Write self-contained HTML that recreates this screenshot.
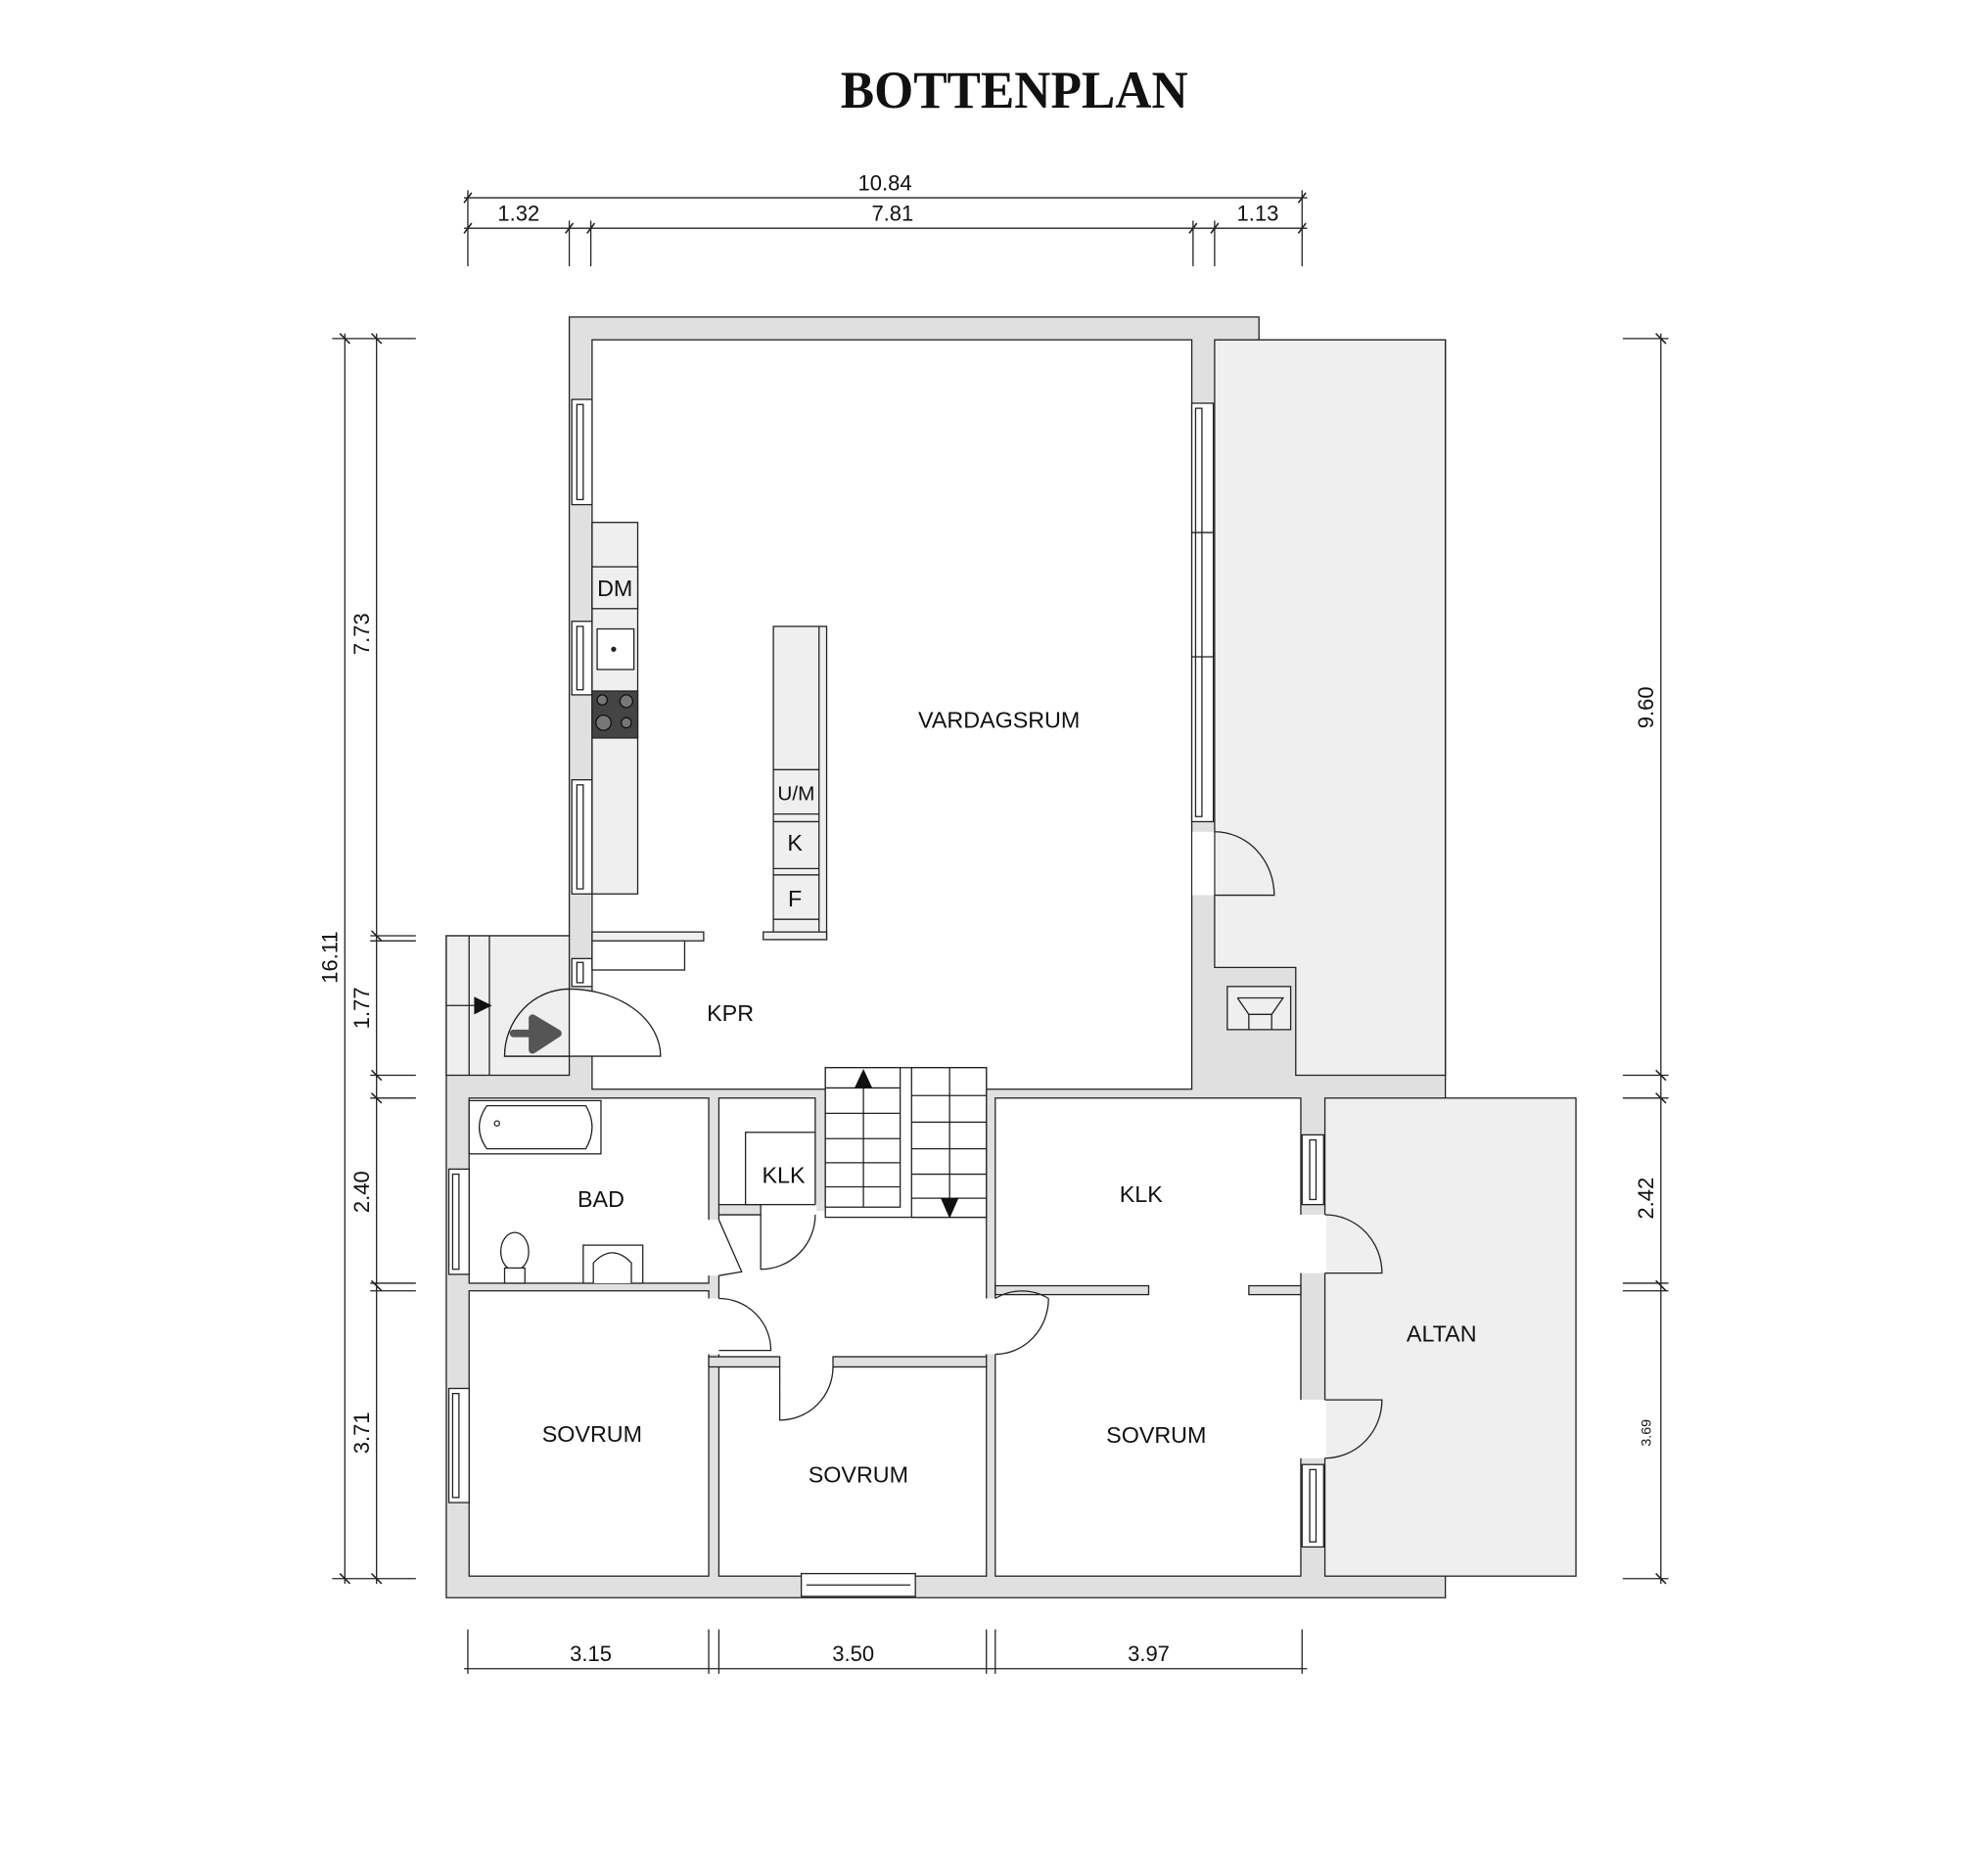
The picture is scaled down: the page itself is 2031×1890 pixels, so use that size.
<!DOCTYPE html>
<html><head><meta charset="utf-8"><style>
html,body{margin:0;padding:0;background:#fff;}
svg{display:block;}
text{font-family:"Liberation Sans",sans-serif;fill:#111;}
</style></head><body>
<svg width="2031" height="1890" viewBox="0 0 1568 1459" preserveAspectRatio="none" xmlns="http://www.w3.org/2000/svg">
<text x="800" y="85" text-anchor="middle" style="font-family:'Liberation Serif',serif;font-weight:bold;font-size:42px" textLength="274" lengthAdjust="spacingAndGlyphs">BOTTENPLAN</text>

<g stroke="#222" stroke-width="1" fill="none">
<line x1="366" y1="156" x2="1031" y2="156"/>
<line x1="366" y1="180" x2="1031" y2="180"/>
<line x1="369" y1="150" x2="369" y2="210"/><line x1="449" y1="174" x2="449" y2="210"/><line x1="466" y1="174" x2="466" y2="210"/>
<line x1="941" y1="174" x2="941" y2="210"/><line x1="958" y1="174" x2="958" y2="210"/><line x1="1027" y1="150" x2="1027" y2="210"/>
<g stroke-width="1.2"><line x1="366" y1="160" x2="372" y2="152"/><line x1="1024" y1="160" x2="1030" y2="152"/>
<line x1="366" y1="184" x2="372" y2="176"/><line x1="446" y1="184" x2="452" y2="176"/><line x1="463" y1="184" x2="469" y2="176"/><line x1="938" y1="184" x2="944" y2="176"/><line x1="955" y1="184" x2="961" y2="176"/><line x1="1024" y1="184" x2="1030" y2="176"/></g>
<line x1="272" y1="263" x2="272" y2="1249"/>
<line x1="297" y1="263" x2="297" y2="1249"/>
<line x1="262" y1="267" x2="328" y2="267"/><line x1="292" y1="738" x2="328" y2="738"/><line x1="292" y1="742" x2="328" y2="742"/>
<line x1="292" y1="848" x2="328" y2="848"/><line x1="292" y1="866" x2="328" y2="866"/>
<line x1="292" y1="1012" x2="328" y2="1012"/><line x1="292" y1="1018" x2="328" y2="1018"/><line x1="262" y1="1245" x2="328" y2="1245"/>
<g stroke-width="1.2"><line x1="268" y1="263" x2="276" y2="271"/><line x1="268" y1="1241" x2="276" y2="1249"/>
<line x1="293" y1="263" x2="301" y2="271"/><line x1="293" y1="734" x2="301" y2="742"/><line x1="293" y1="844" x2="301" y2="852"/><line x1="293" y1="862" x2="301" y2="870"/><line x1="293" y1="1010" x2="301" y2="1018"/><line x1="293" y1="1241" x2="301" y2="1249"/></g>
<line x1="1310" y1="263" x2="1310" y2="1249"/>
<line x1="1280" y1="267" x2="1316" y2="267"/><line x1="1280" y1="848" x2="1316" y2="848"/><line x1="1280" y1="866" x2="1316" y2="866"/>
<line x1="1280" y1="1012" x2="1316" y2="1012"/><line x1="1280" y1="1018" x2="1316" y2="1018"/><line x1="1280" y1="1245" x2="1316" y2="1245"/>
<g stroke-width="1.2"><line x1="1306" y1="263" x2="1314" y2="271"/><line x1="1306" y1="844" x2="1314" y2="852"/><line x1="1306" y1="862" x2="1314" y2="870"/><line x1="1306" y1="1010" x2="1314" y2="1018"/><line x1="1306" y1="1241" x2="1314" y2="1249"/></g>
<line x1="366" y1="1316" x2="1031" y2="1316"/>
<line x1="369" y1="1285" x2="369" y2="1320"/><line x1="559" y1="1285" x2="559" y2="1320"/><line x1="567" y1="1285" x2="567" y2="1320"/>
<line x1="778" y1="1285" x2="778" y2="1320"/><line x1="785" y1="1285" x2="785" y2="1320"/><line x1="1027" y1="1285" x2="1027" y2="1320"/>
</g>
<g font-size="17">
<text x="698" y="150" text-anchor="middle">10.84</text>
<text x="409" y="174" text-anchor="middle">1.32</text>
<text x="704" y="174" text-anchor="middle">7.81</text>
<text x="992" y="174" text-anchor="middle">1.13</text>
<text x="466" y="1310" text-anchor="middle">3.15</text>
<text x="673" y="1310" text-anchor="middle">3.50</text>
<text x="906" y="1310" text-anchor="middle">3.97</text>
<text transform="translate(266,755) rotate(-90)" text-anchor="middle">16.11</text>
<text transform="translate(291,500) rotate(-90)" text-anchor="middle">7.73</text>
<text transform="translate(291,795) rotate(-90)" text-anchor="middle">1.77</text>
<text transform="translate(291,940) rotate(-90)" text-anchor="middle">2.40</text>
<text transform="translate(291,1130) rotate(-90)" text-anchor="middle">3.71</text>
<text transform="translate(1304,558) rotate(-90)" text-anchor="middle">9.60</text>
<text transform="translate(1304,945) rotate(-90)" text-anchor="middle">2.42</text>
<text transform="translate(1302,1130) rotate(-90)" text-anchor="middle" font-size="11">3.69</text>
</g>

<polygon points="449,250 993,250 993,268 1140,268 1140,1260 352,1260 352,738 449,738" fill="#e0e0e0" stroke="#222" stroke-width="1"/>
<polygon points="958,268 1140,268 1140,848 1022,848 1022,763 958,763" fill="#efefef" stroke="#222" stroke-width="1"/>
<rect x="968" y="778" width="50" height="34" fill="#efefef" stroke="#222"/>
<path d="M976 787 H1012 L1003 800 V812 M976 787 L985 800 V812 M985 800 H1003" fill="none" stroke="#222"/>
<rect x="352" y="738" width="97" height="110" fill="#efefef" stroke="#222"/>
<line x1="370" y1="738" x2="370" y2="848" stroke="#222"/><line x1="386" y1="738" x2="386" y2="848" stroke="#222"/>
<line x1="352" y1="793" x2="376" y2="793" stroke="#222"/>
<polygon points="374,786 388,793 374,800" fill="#111"/>
<rect x="1045" y="866" width="198" height="377" fill="#efefef" stroke="#222"/>

<g fill="#fff" stroke="#222" stroke-width="1">
<rect x="467" y="268" width="473" height="591"/>
<rect x="370" y="866" width="189" height="146"/>
<rect x="567" y="866" width="76" height="84"/>
<rect x="567" y="958" width="211" height="112"/>
<rect x="370" y="1018" width="189" height="225"/>
<rect x="567" y="1078" width="211" height="165"/>
<rect x="785" y="866" width="241" height="377"/>
</g>
<g fill="#fff">
<rect x="940.5" y="656" width="17" height="50"/>
<rect x="558" y="962" width="10" height="44"/>
<rect x="558" y="1024" width="10" height="44"/>
<rect x="615" y="1069" width="42" height="10"/>
<rect x="777" y="1024" width="9" height="44"/>
<rect x="600" y="949" width="44" height="10"/>
<rect x="642" y="955" width="10" height="4"/>
<rect x="907" y="1014" width="78" height="9"/>
<rect x="1025" y="958" width="21" height="46"/>
<rect x="1025" y="1104" width="21" height="46"/>
</g>
<g fill="#e0e0e0" stroke="#222">
<rect x="785" y="1014" width="121" height="7"/>
<rect x="985" y="1014" width="41" height="7"/>
<rect x="567" y="950" width="33" height="8"/>
<rect x="559" y="1070" width="56" height="8"/>
<rect x="657" y="1070" width="121" height="8"/>
</g>
<rect x="588" y="893" width="55" height="57" fill="#fff" stroke="#222"/>

<g fill="none" stroke="#222" stroke-width="1">
<path d="M958 656 A47 50 0 0 1 1005 706 H958"/>
<path d="M643 958 A43 43 0 0 1 600 1001 V958"/>
<path d="M567 962 L585 1003 L567 1006"/>
<path d="M567 1024 A41 41 0 0 1 608 1065 H567"/>
<path d="M657 1078 A42 42 0 0 1 615 1120 V1078"/>
<path d="M785 1024 A42 44 0 0 1 827 1024 M827 1024 A42 44 0 0 1 785 1068"/>
<path d="M1045 958 A45 46 0 0 1 1090 1004 H1045"/>
<path d="M1045 1150 A45 46 0 0 0 1090 1104 H1045"/>
<path d="M398 833 A51 53 0 0 1 449 780 A72 53 0 0 1 521 833 Z" fill="#fff"/>
</g>
<path d="M398 833 A51 53 0 0 1 449 780 V833 Z" fill="#efefef" stroke="#222"/>
<path d="M405 815 H422 M420 803 L440 815 L420 828 Z" fill="#555" stroke="#555" stroke-width="6" stroke-linejoin="round" stroke-linecap="round"/>

<g fill="#fff" stroke="#222" stroke-width="1">
<rect x="451" y="315" width="16" height="83"/><rect x="455" y="319" width="5" height="75"/>
<rect x="451" y="490" width="16" height="58"/><rect x="455" y="494" width="5" height="50"/>
<rect x="451" y="615" width="16" height="90"/><rect x="455" y="619" width="5" height="82"/>
<rect x="451" y="756" width="16" height="22"/><rect x="455" y="759" width="5" height="16"/>
<rect x="940" y="318" width="17" height="330"/><rect x="943" y="322" width="5" height="322"/>
<line x1="940" y1="420" x2="957" y2="420"/><line x1="940" y1="518" x2="957" y2="518"/>
<rect x="354" y="922" width="16" height="83"/><rect x="357" y="926" width="5" height="75"/>
<rect x="354" y="1095" width="16" height="90"/><rect x="357" y="1099" width="5" height="82"/>
<rect x="1027" y="895" width="17" height="55"/><rect x="1033" y="899" width="5" height="47"/>
<rect x="1027" y="1155" width="17" height="65"/><rect x="1033" y="1159" width="5" height="57"/>
<rect x="632" y="1241" width="90" height="18"/><line x1="636" y1="1250" x2="718" y2="1250"/>
</g>

<g stroke="#222" stroke-width="1">
<rect x="467" y="412" width="36" height="293" fill="#efefef"/>
<rect x="467" y="447" width="36" height="33" fill="#efefef"/>
<rect x="471" y="496" width="29" height="32" fill="#fff"/>
<rect x="467" y="545" width="36" height="37" fill="#444"/>
<rect x="467" y="735" width="88" height="7" fill="#efefef"/>
<rect x="467" y="742" width="73" height="23" fill="#fff"/>
<rect x="610" y="494" width="42" height="247" fill="#efefef"/>
<line x1="646" y1="494" x2="646" y2="736"/>
<rect x="602" y="735" width="50" height="6" fill="#efefef"/>
<line x1="610" y1="607" x2="646" y2="607"/><line x1="610" y1="642" x2="646" y2="642"/><line x1="610" y1="648" x2="646" y2="648"/>
<line x1="610" y1="685" x2="646" y2="685"/><line x1="610" y1="690" x2="646" y2="690"/><line x1="610" y1="725" x2="646" y2="725"/>
</g>
<circle cx="484" cy="512" r="2" fill="#222"/>
<g fill="#777" stroke="#111"><circle cx="475" cy="552" r="4"/><circle cx="494" cy="553" r="5"/><circle cx="476" cy="570" r="6"/><circle cx="494" cy="570" r="4"/></g>

<g stroke="#222" fill="#fff">
<rect x="370" y="868" width="104" height="42"/>
<path d="M384 872 H462 Q472 889 462 906 H384 Q372 889 384 872 Z"/>
<circle cx="392" cy="886" r="2"/>
<rect x="460" y="982" width="47" height="30"/>
<path d="M468 1012 V996 Q483 980 498 996 V1012"/>
<ellipse cx="406" cy="987" rx="11" ry="15"/>
<rect x="398" y="1000" width="16" height="12"/>
</g>

<g fill="#fff" stroke="#222" stroke-width="1">
<rect x="651" y="842" width="127" height="118"/>
<rect x="651" y="842" width="59" height="110"/>
<rect x="719" y="842" width="59" height="118"/>
<line x1="681" y1="858" x2="681" y2="952"/>
<line x1="749" y1="842" x2="749" y2="960"/>
<line x1="651" y1="858" x2="710" y2="858"/><line x1="651" y1="878" x2="710" y2="878"/><line x1="651" y1="898" x2="710" y2="898"/><line x1="651" y1="917" x2="710" y2="917"/><line x1="651" y1="936" x2="710" y2="936"/>
<line x1="719" y1="864" x2="778" y2="864"/><line x1="719" y1="885" x2="778" y2="885"/><line x1="719" y1="906" x2="778" y2="906"/><line x1="719" y1="926" x2="778" y2="926"/><line x1="719" y1="945" x2="778" y2="945"/>
</g>
<polygon points="681,843 674,858 688,858" fill="#111"/>
<polygon points="742,945 756,945 749,961" fill="#111"/>

<g font-size="18" text-anchor="middle">
<text x="788" y="574">VARDAGSRUM</text>
<text x="576" y="805">KPR</text>
<text x="474" y="952">BAD</text>
<text x="618" y="933">KLK</text>
<text x="900" y="948">KLK</text>
<text x="467" y="1137">SOVRUM</text>
<text x="677" y="1169">SOVRUM</text>
<text x="912" y="1138">SOVRUM</text>
<text x="1137" y="1058">ALTAN</text>
<text x="485" y="470">DM</text>
<text x="628" y="631" font-size="16">U/M</text>
<text x="627" y="671">K</text>
<text x="627" y="715">F</text>
</g>
</svg>
</body></html>
